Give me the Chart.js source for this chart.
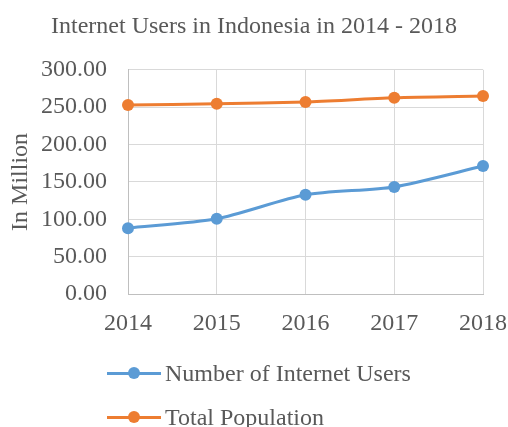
<!DOCTYPE html>
<html><head><meta charset="utf-8">
<script src="https://cdn.jsdelivr.net/npm/chart.js@4/dist/chart.umd.min.js"></script>
<style>
html,body{margin:0;padding:0;background:#fff;}
#wrap{position:relative;width:508px;height:427px;}
#legend{position:absolute;left:0;top:0;width:508px;height:427px;pointer-events:none;font-family:"Liberation Serif","Times New Roman",serif;color:#595959;font-size:24px;}
.item{position:absolute;left:107px;height:26px;display:flex;align-items:center;}
.mk{position:relative;width:54px;height:26px;margin-right:4px;}
.mk .ln{position:absolute;left:0;right:0;top:11.5px;height:3px;}
.mk .dt{position:absolute;left:21px;top:7px;width:12px;height:12px;border-radius:50%;}
</style></head>
<body><div id="wrap"><canvas id="c" width="508" height="427"></canvas><div id="legend"></div></div>
<script>
const categories = ["2014","2015","2016","2017","2018"];
const internetUsers = [88.1, 100.6, 132.7, 143.3, 171.2];
const totalPopulation = [252.8, 254.5, 257.0, 262.5, 264.8];
const seriesNames = ["Number of Internet Users","Total Population"];
const seriesColors = ["#5B9BD5","#ED7D31"];
const titleText = "Internet Users in Indonesia in 2014 - 2018";
const yTitle = "In Million";

const FONT = '"Liberation Serif","Times New Roman",serif';
const TXT = '#595959';

const mkDs = (label, data, color) => ({
  label, data, borderColor: color, backgroundColor: color,
  borderWidth: 3, pointRadius: 6, pointHoverRadius: 6, pointBorderWidth: 0,
  tension: 0.25, fill: false
});

new Chart(document.getElementById('c'), {
  type: 'line',
  data: { labels: categories, datasets: [
    mkDs(seriesNames[0], internetUsers, seriesColors[0]),
    mkDs(seriesNames[1], totalPopulation, seriesColors[1])
  ]},
  options: {
    responsive: false, animation: false,
    layout: { padding: { left: 0, right: 0, top: 0, bottom: 82 } },
    plugins: {
      legend: { display: false },
      tooltip: { enabled: false },
      title: { display: true, text: titleText, color: TXT,
        font: { family: FONT, size: 24, weight: 'normal' },
        padding: { top: 12, bottom: 29 } }
    },
    scales: {
      x: {
        offset: false,
        grid: { color: '#d9d9d9', lineWidth: 1, drawTicks: false },
        border: { color: '#bfbfbf', width: 1 },
        ticks: { color: TXT, font: { family: FONT, size: 24 }, padding: 15, maxRotation: 0 },
        afterFit: s => { s.height = 51; s.paddingLeft = 0; s.paddingRight = 25; }
      },
      y: {
        min: 0, max: 300,
        grid: { color: '#d9d9d9', lineWidth: 1, drawTicks: false },
        border: { color: '#bfbfbf', width: 1 },
        ticks: { stepSize: 50, color: TXT, font: { family: FONT, size: 24 }, padding: 21,
          callback: v => Number(v).toFixed(2) },
        title: { display: true, text: yTitle, color: TXT, font: { family: FONT, size: 24 }, padding: { top: 6, bottom: 0 } },
        afterFit: s => { s.width = 128; }
      }
    }
  }
});

const lg = document.getElementById('legend');
const rowY = [360, 404];
seriesNames.forEach((n, i) => {
  const d = document.createElement('div');
  d.className = 'item';
  d.style.top = rowY[i] + 'px';
  d.innerHTML = '<div class="mk"><div class="ln" style="background:' + seriesColors[i] + '"></div><div class="dt" style="background:' + seriesColors[i] + '"></div></div><span>' + n + '</span>';
  lg.appendChild(d);
});
</script></body></html>
